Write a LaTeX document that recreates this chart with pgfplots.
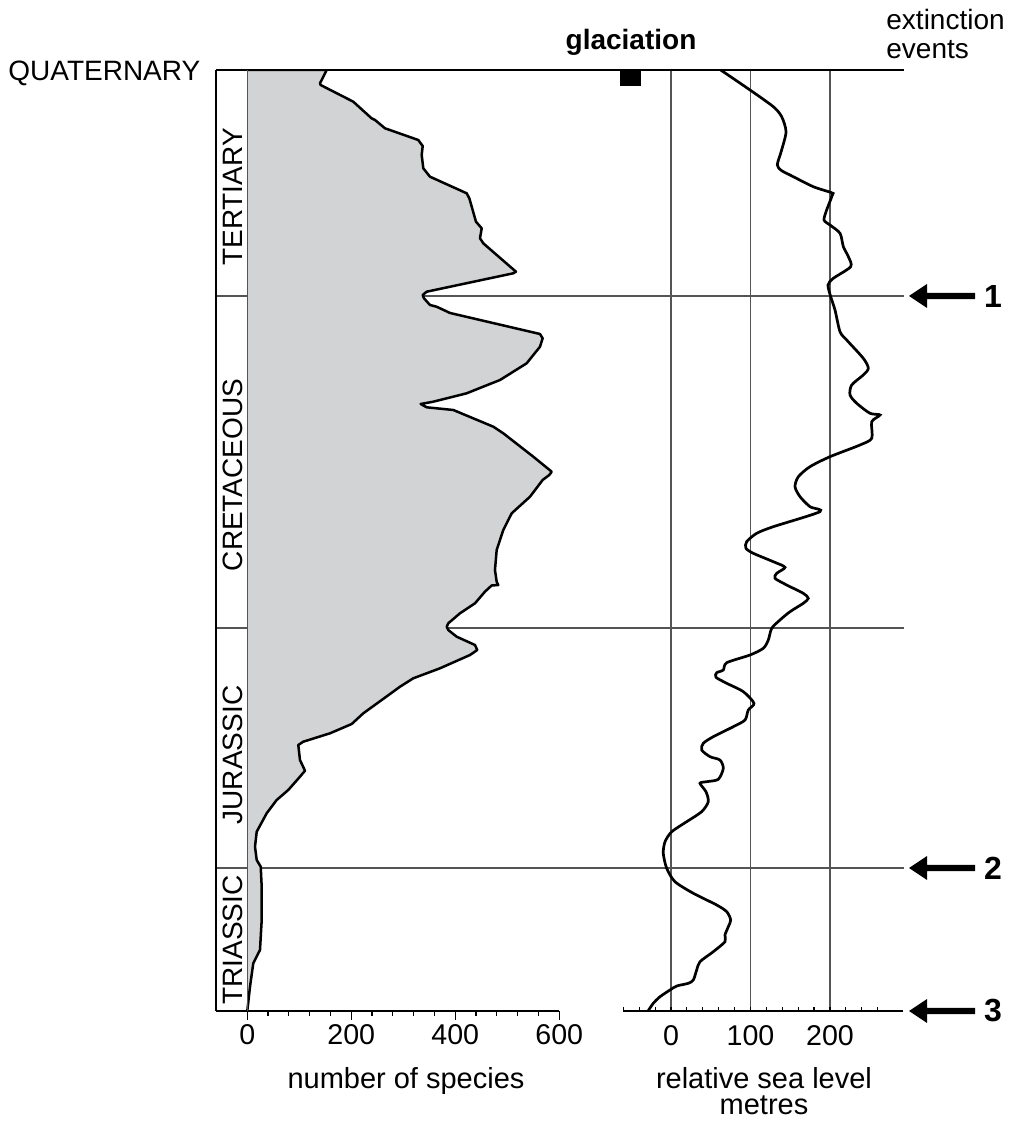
\documentclass[border=0pt]{standalone}
\usepackage{pgfplots}
\pgfplotsset{compat=1.18}
\usepackage{pgfplotstable}
\usepackage{fontspec}
\setmainfont{Liberation Sans}
\definecolor{fillgrey}{RGB}{209,211,212}
\definecolor{gridgrey}{RGB}{85,85,85}

% number of species (x) against depth in picture units (y, negative = down)
\pgfplotstableread{
sp y
0 -70
152.7 -70
139.8 -83.3
141 -85
203.8 -101.7
239 -118.3
245.6 -120
264.8 -128.3
328.8 -140
337.3 -146
335.4 -155
338.5 -168.3
351.3 -176.7
421.9 -193.3
427 -198.3
439.8 -221.7
450.8 -228.3
447.5 -238.3
453.8 -243.3
516.7 -271.7
511.5 -273.3
345 -291.7
337.3 -295
339.8 -298.3
351.3 -305
364 -306.7
390 -313
562.9 -334
568 -338.3
562.9 -346.7
537.3 -363.3
486 -380
421.9 -393.3
357.7 -401.7
333.4 -404
345 -407.3
396.2 -410
473.1 -426.7
492.3 -433.3
550 -456.7
585.4 -471.7
580.8 -475
568 -480
543.7 -496.7
508.5 -513.3
492.3 -530
479.6 -550
476.3 -570
479.6 -581.7
482.7 -585
469.9 -585.5
457 -591.7
437.9 -603.3
409 -613.3
386.5 -623.3
383.5 -626.7
386.5 -630
402.7 -636.7
437.9 -645
442.3 -650
428.3 -655
370.6 -668.3
319.2 -678.3
293.7 -686.7
258.5 -700
223.1 -713.3
200.8 -724
159 -733.3
107.7 -741.7
98.1 -745
101.3 -760
111 -770.7
101.3 -776.7
78.8 -790
56.5 -800
37.3 -813.3
18.1 -831.7
14.8 -846.7
18.1 -860
25.8 -866.7
27.7 -886.7
27.7 -920
24.4 -950
11.5 -963.3
5.2 -986.7
0 -1011
}\species

% relative sea level (x, metres) against depth in picture units (y)
\pgfplotstableread{
sl y
62.5 -70
99.4 -90
128.7 -106.7
139.2 -116.7
144.7 -131.7
139.2 -150
133.7 -165
139.2 -170.7
149.7 -175
179 -186.7
202 -192.7
203 -195
195.8 -210
192.5 -220
200 -225
212.6 -233.3
216.8 -246.7
223.1 -256.7
226 -266.7
204.2 -278.3
197.5 -285
200.9 -296.7
206.3 -310
212.6 -331.7
221 -340
241.9 -358.3
248.2 -368.3
241.9 -375
227.3 -385
225.2 -395
233.6 -403.3
250.3 -413.3
262.9 -415
252.5 -421.7
252.5 -438.3
237.7 -445
200 -456.7
174.8 -466.7
160.2 -476.7
156 -486.7
162.3 -496.7
174.8 -506.7
187.4 -511.7
128.7 -526.7
107.8 -533.3
95.2 -541.7
94.3 -548.3
103.5 -553.3
128.7 -561.7
143.4 -567.3
133 -573.3
130.8 -578.3
145.5 -585
166.4 -593.3
172.7 -598.3
166.4 -603.3
149.7 -611.7
137.1 -620
126.7 -628.3
122.4 -640
116.1 -648.3
99.4 -655
70.1 -662.7
65.8 -670
57.5 -672.7
56.6 -677.3
70.1 -683.3
91 -691.7
104.4 -703.3
97.2 -710
93.1 -720
78.4 -726.7
53.2 -736.7
40.6 -743.3
38.6 -750
49.1 -756.7
61.6 -760
65.8 -768.3
59.5 -779.3
44.9 -781.7
36.5 -783.3
44 -791.7
46.9 -801.7
38.6 -811.7
19.7 -821.7
0.9 -831.7
-7.5 -841.7
-9.7 -853.3
-5.4 -868.3
5 -881.7
28.1 -893.3
57.5 -905
70.1 -911.7
75.1 -920
72.1 -926.7
67.9 -935
67.9 -941.7
53.2 -951.7
36.5 -961.7
32.3 -970
28.1 -980
21.8 -983.3
7.2 -986
-1.3 -990
-13.8 -996.7
-22.3 -1003.3
-28.6 -1010.7
}\sealevel

\begin{document}
\begin{tikzpicture}[font=\fontsize{14}{16}\selectfont]
\useasboundingbox (-108.05pt,-55pt) rectangle (397.45pt,505.5pt);

% boundary lines (behind the grey area)
\begin{scope}[x=0.5pt,y=-0.5pt,shift={(-108.05pt,505.5pt)}]
  \draw[gridgrey, line width=0.55pt] (216,296) -- (904,296);
  \draw[gridgrey, line width=0.55pt] (216,628) -- (904,628);
  \draw[gridgrey, line width=0.55pt] (216,868) -- (904,868);
\end{scope}

% number of species
\begin{axis}[
  at={(0pt,0pt)}, anchor=south west,
  scale only axis, width=171.6pt, height=470.5pt,
  xmin=-60, xmax=600, ymin=-1011, ymax=-70,
  axis x line=bottom, axis y line=none,
  axis line style={-, line width=0.75pt, black},
  xtick={0,200,400,600},
  minor xtick={40,80,...,560},
  xtick align=outside,
  major tick length=4.5pt, minor tick length=2.5pt,
  every tick/.style={black, line width=0.6pt},
  ytick=\empty,
  /pgf/number format/assume math mode=true,
  ticklabel style={font=\fontsize{14.3}{16}\selectfont},
  xticklabel style={yshift=1.5pt},
]
  \addplot[fill=fillgrey, draw=none] table[x=sp, y=y] {\species} -- cycle;
  \addplot[black, line width=1.25pt, line join=round] table[x=sp, y=y] {\species};
\end{axis}

% relative sea level
\begin{axis}[
  at={(203.6pt,0pt)}, anchor=south west,
  scale only axis, width=139.92pt, height=470.5pt,
  xmin=-60, xmax=292, ymin=-1011, ymax=-70,
  axis x line=bottom, axis y line=none,
  axis line style={-, line width=0.75pt, black},
  xtick={0,100,200},
  minor xtick={-60,-40,...,260},
  xtick align=inside,
  major tick length=2pt, minor tick length=2pt,
  every tick/.style={black, line width=0.6pt},
  xmajorgrids,
  major grid style={gridgrey, line width=0.55pt},
  ytick=\empty,
  clip=false,
  /pgf/number format/assume math mode=true,
  ticklabel style={font=\fontsize{14.3}{16}\selectfont},
  xticklabel style={yshift=-3.5pt},
]
  \addplot[black, line width=1.35pt, smooth, tension=0.45] table[x=sl, y=y] {\sealevel};
  % glaciation marker
  \addplot[fill=black, draw=none] coordinates {(-64.2,-70) (-37.7,-70) (-37.7,-86) (-64.2,-86)} -- cycle;
\end{axis}

% frame, labels and arrows
\begin{scope}[x=0.5pt,y=-0.5pt,shift={(-108.05pt,505.5pt)}]
  \draw[black, line width=0.75pt] (216,70) -- (904,70);
  \draw[black, line width=0.75pt] (216,70) -- (216,1011);
  \draw[gridgrey, line width=0.55pt] (247.3,70) -- (247.3,1011);

  \node[anchor=base west, inner sep=0pt] at (8,81) {QUATERNARY};
  \node[rotate=90, inner sep=0pt] at (232.5,197) {TERTIARY};
  \node[rotate=90, inner sep=0pt] at (232.5,475) {CRETACEOUS};
  \node[rotate=90, inner sep=0pt] at (232.5,755) {JURASSIC};
  \node[rotate=90, inner sep=0pt] at (232.5,940) {TRIASSIC};

  \node[anchor=base, inner sep=0pt, font=\fontsize{14}{16}\selectfont\bfseries] at (631,50) {glaciation};
  \node[anchor=base west, inner sep=0pt] at (886,30) {extinction};
  \node[anchor=base west, inner sep=0pt] at (886,59) {events};

  \node[anchor=base, inner sep=0pt, font=\fontsize{14.5}{16}\selectfont] at (406,1088) {number of species};
  \node[anchor=base, inner sep=0pt, font=\fontsize{14.5}{16}\selectfont] at (764,1088) {relative sea level};
  \node[anchor=base, inner sep=0pt, font=\fontsize{14.5}{16}\selectfont] at (764,1115) {metres};

  \foreach \yy/\lab in {296/1, 868/2, 1011/3} {
    \fill[black] (909,\yy) -- (927,\yy-12) -- (927,\yy-3.2) -- (975,\yy-3.2)
      -- (975,\yy+3.2) -- (927,\yy+3.2) -- (927,\yy+12) -- cycle;
    \node[font=\fontsize{16}{18}\selectfont\bfseries, inner sep=0pt] at (993,\yy) {\lab};
  }
\end{scope}
\end{tikzpicture}
\end{document}
